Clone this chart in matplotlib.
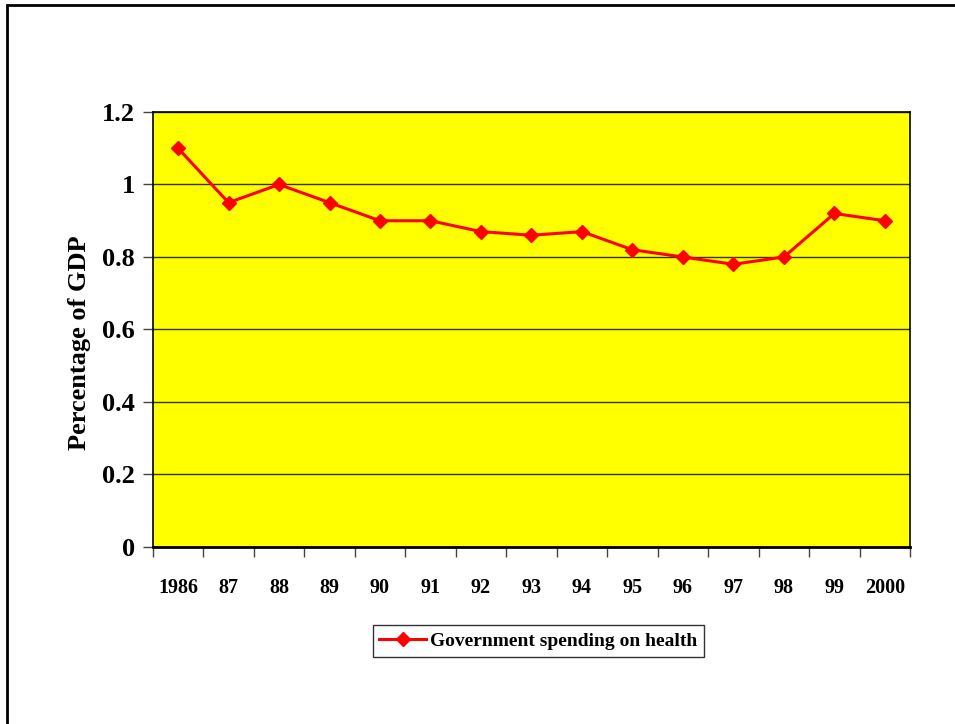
import matplotlib
matplotlib.use("Agg")
import matplotlib.pyplot as plt
from matplotlib.patches import Rectangle
import numpy as np

# values
years = ["1986", "87", "88", "89", "90", "91", "92", "93", "94",
         "95", "96", "97", "98", "99", "2000"]
spending = [1.1, 0.95, 1.0, 0.95, 0.9, 0.9, 0.87, 0.86, 0.87,
            0.82, 0.80, 0.78, 0.80, 0.92, 0.90]
series_name = "Government spending on health"

plt.rcParams['font.family'] = ['Liberation Serif', 'DejaVu Serif']
plt.rcParams['font.weight'] = 'bold'

fig = plt.figure(figsize=(9.55, 7.24), dpi=100)
ax = fig.add_axes([0.160, 0.2445, 0.793, 0.6008])
ax.set_facecolor('#ffff00')

x = np.arange(len(years))
ax.plot(x, spending, color='#ff0000', lw=2.2, marker='D', ms=7,
        label=series_name)

ax.set_xlim(-0.5, len(years) - 0.5)
ax.set_ylim(0, 1.2)
ax.set_yticks(np.arange(0, 1.21, 0.2))
ax.set_yticklabels(['0', '0.2', '0.4', '0.6', '0.8', '1', '1.2'],
                   fontsize=19, fontweight='bold')
ax.yaxis.grid(True, color='#333300', lw=1)
ax.set_axisbelow(True)

# labels centred in category, tick marks on the boundaries
ax.set_xticks(x)
ax.set_xticklabels(years, fontsize=14.5, fontweight='bold')
ax.set_xticks(np.arange(-0.5, len(years), 1.0), minor=True)
ax.tick_params(axis='x', which='major', length=0, pad=22)
ax.tick_params(axis='x', which='minor', length=7, width=1, color='#444444')
ax.tick_params(axis='y', length=7, width=1, color='#444444', pad=6)

for side in ['left', 'right', 'top']:
    ax.spines[side].set_linewidth(1.2)
ax.spines['bottom'].set_linewidth(2)

ax.set_ylabel('Percentage of GDP', fontsize=19, fontweight='bold')
ax.yaxis.set_label_coords(-0.082, 0.47)

leg = ax.legend(loc='upper center', bbox_to_anchor=(0.509, -0.158),
                frameon=True, fancybox=False, shadow=False,
                handlelength=2.4, handletextpad=0.2, borderpad=0.35,
                prop={'weight': 'bold', 'size': 14})
leg.get_frame().set_edgecolor('black')
leg.get_frame().set_linewidth(1)

# outer frame of the figure box, cut off by the image edge
fig.add_artist(Rectangle((7 / 955, -0.1), 1.2, 1 - 5 / 724 + 0.1,
                         transform=fig.transFigure, fill=False,
                         edgecolor='black', lw=2))

fig.savefig("out.png", dpi=100)
